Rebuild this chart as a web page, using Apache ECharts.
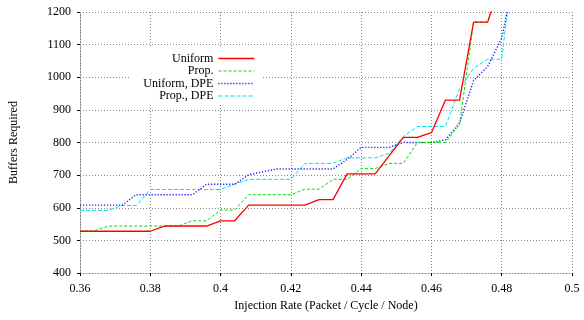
<!DOCTYPE html>
<html>
<head>
<meta charset="utf-8">
<script src="https://cdn.jsdelivr.net/npm/echarts@6/dist/echarts.min.js"></script>
<style>html,body{margin:0;padding:0;background:#fff}#c{width:584px;height:320px}</style>
</head>
<body>
<div id="c"></div>
<script>
var injectionRates = [0.36,0.364,0.368,0.372,0.376,0.38,0.384,0.388,0.392,0.396,0.4,0.404,0.408,0.412,0.416,0.42,0.424,0.428,0.432,0.436,0.44,0.444,0.448,0.452,0.456,0.46,0.464,0.468,0.472,0.476,0.48,0.484];
var uniform    = [528,528,528,528,528,528,544,544,544,544,560,560,608,608,608,608,608,625,625,704,704,704,760,816,816,830,930,930,1169,1169,1300,1350];
var prop       = [529,529,544,544,544,544,544,544,560,560,593,593,640,640,640,640,657,657,687,687,720,720,736,736,800,800,800,855,1169,1169,1310,1360];
var uniformDPE = [608,608,608,608,640,640,640,640,640,672,672,672,701,710,719,719,719,719,719,748,785,785,785,800,800,800,808,860,990,1033,1120,1330];
var propDPE    = [592,592,592,607,607,656,656,656,656,656,656,672,687,687,687,687,736,736,736,753,753,753,767,818,849,849,849,965,1028,1055,1055,1420];
var seriesNames = ['Uniform','Prop.','Uniform, DPE','Prop., DPE'];
var xTickLabels = ['0.36','0.38','0.4','0.42','0.44','0.46','0.48','0.5'];
var yTickLabels = ['400','500','600','700','800','900','1000','1100','1200'];

function pairs(ys){ return injectionRates.map(function(x,i){ return [x, ys[i]]; }); }

var font = 'Liberation Serif, Times New Roman, serif';
var styles = [
  {color:'#ff0000', width:1.3, type:'solid'},
  {color:'#00dd00', width:1, type:[3,2]},
  {color:'#1a1aff', width:1.4, type:[1.2,1.8]},
  {color:'#00e0e8', width:1, type:[4,2]}
];
var allData = [uniform, prop, uniformDPE, propDPE];
var rowTops = [52.5, 65, 77.5, 90];

var chart = echarts.init(document.getElementById('c'), null, {renderer:'canvas'});
chart.setOption({
  animation:false,
  backgroundColor:'#fff',
  grid:{left:77, right:12, top:12, bottom:47, containLabel:false},
  graphic:[{type:'rect', z:3, silent:true, shape:{x:130, y:47.5, width:132, height:56},
    style:{fill:'#fff', stroke:null}}],
  legend: seriesNames.map(function(n,i){
    return {show:true, data:[n], orient:'horizontal', align:'right',
      left:'auto', right:329, top:rowTops[i], bottom:'auto', padding:0,
      itemWidth:36, itemHeight:10, itemGap:0,
      itemStyle:{opacity:0, borderWidth:0},
      lineStyle:{color:styles[i].color, width:styles[i].width, type:styles[i].type, opacity:1},
      textStyle:{fontFamily:font, fontSize:12, color:'#000'}};
  }),
  xAxis:{type:'value', min:0.36, max:0.5, interval:0.02,
    name:'Injection Rate (Packet / Cycle / Node)', nameLocation:'middle', nameGap:21,
    nameTextStyle:{fontFamily:font, fontSize:12, color:'#000'},
    axisLine:{show:true, onZero:false, lineStyle:{color:'#888', type:[1,2], width:1}},
    axisTick:{show:true, inside:false, length:3, lineStyle:{color:'#000'}},
    axisLabel:{margin:10, fontFamily:font, fontSize:12, color:'#000',
      formatter:function(v){ var k=Math.round((v-0.36)/0.02); return xTickLabels[k]; }},
    splitLine:{show:true, lineStyle:{color:'#888', type:[1,2], width:1}}
  },
  yAxis:{type:'value', min:400, max:1200, interval:100,
    name:'Buffers Required', nameLocation:'middle', nameGap:60,
    nameTextStyle:{fontFamily:font, fontSize:12, color:'#000'},
    axisLine:{show:true, lineStyle:{color:'#888', type:[1,2], width:1}},
    axisTick:{show:true, inside:false, length:3, lineStyle:{color:'#000'}},
    axisLabel:{margin:9, fontFamily:font, fontSize:12, color:'#000',
      formatter:function(v){ return yTickLabels[Math.round((v-400)/100)]; }},
    splitLine:{show:true, lineStyle:{color:'#888', type:[1,2], width:1}}
  },
  series: seriesNames.map(function(n,i){
    return {name:n, type:'line', data:pairs(allData[i]), symbol:'none', clip:true,
      lineStyle:{color:styles[i].color, width:styles[i].width, type:styles[i].type},
      itemStyle:{color:styles[i].color}, z: 10-i};
  })
});
</script>
</body>
</html>
